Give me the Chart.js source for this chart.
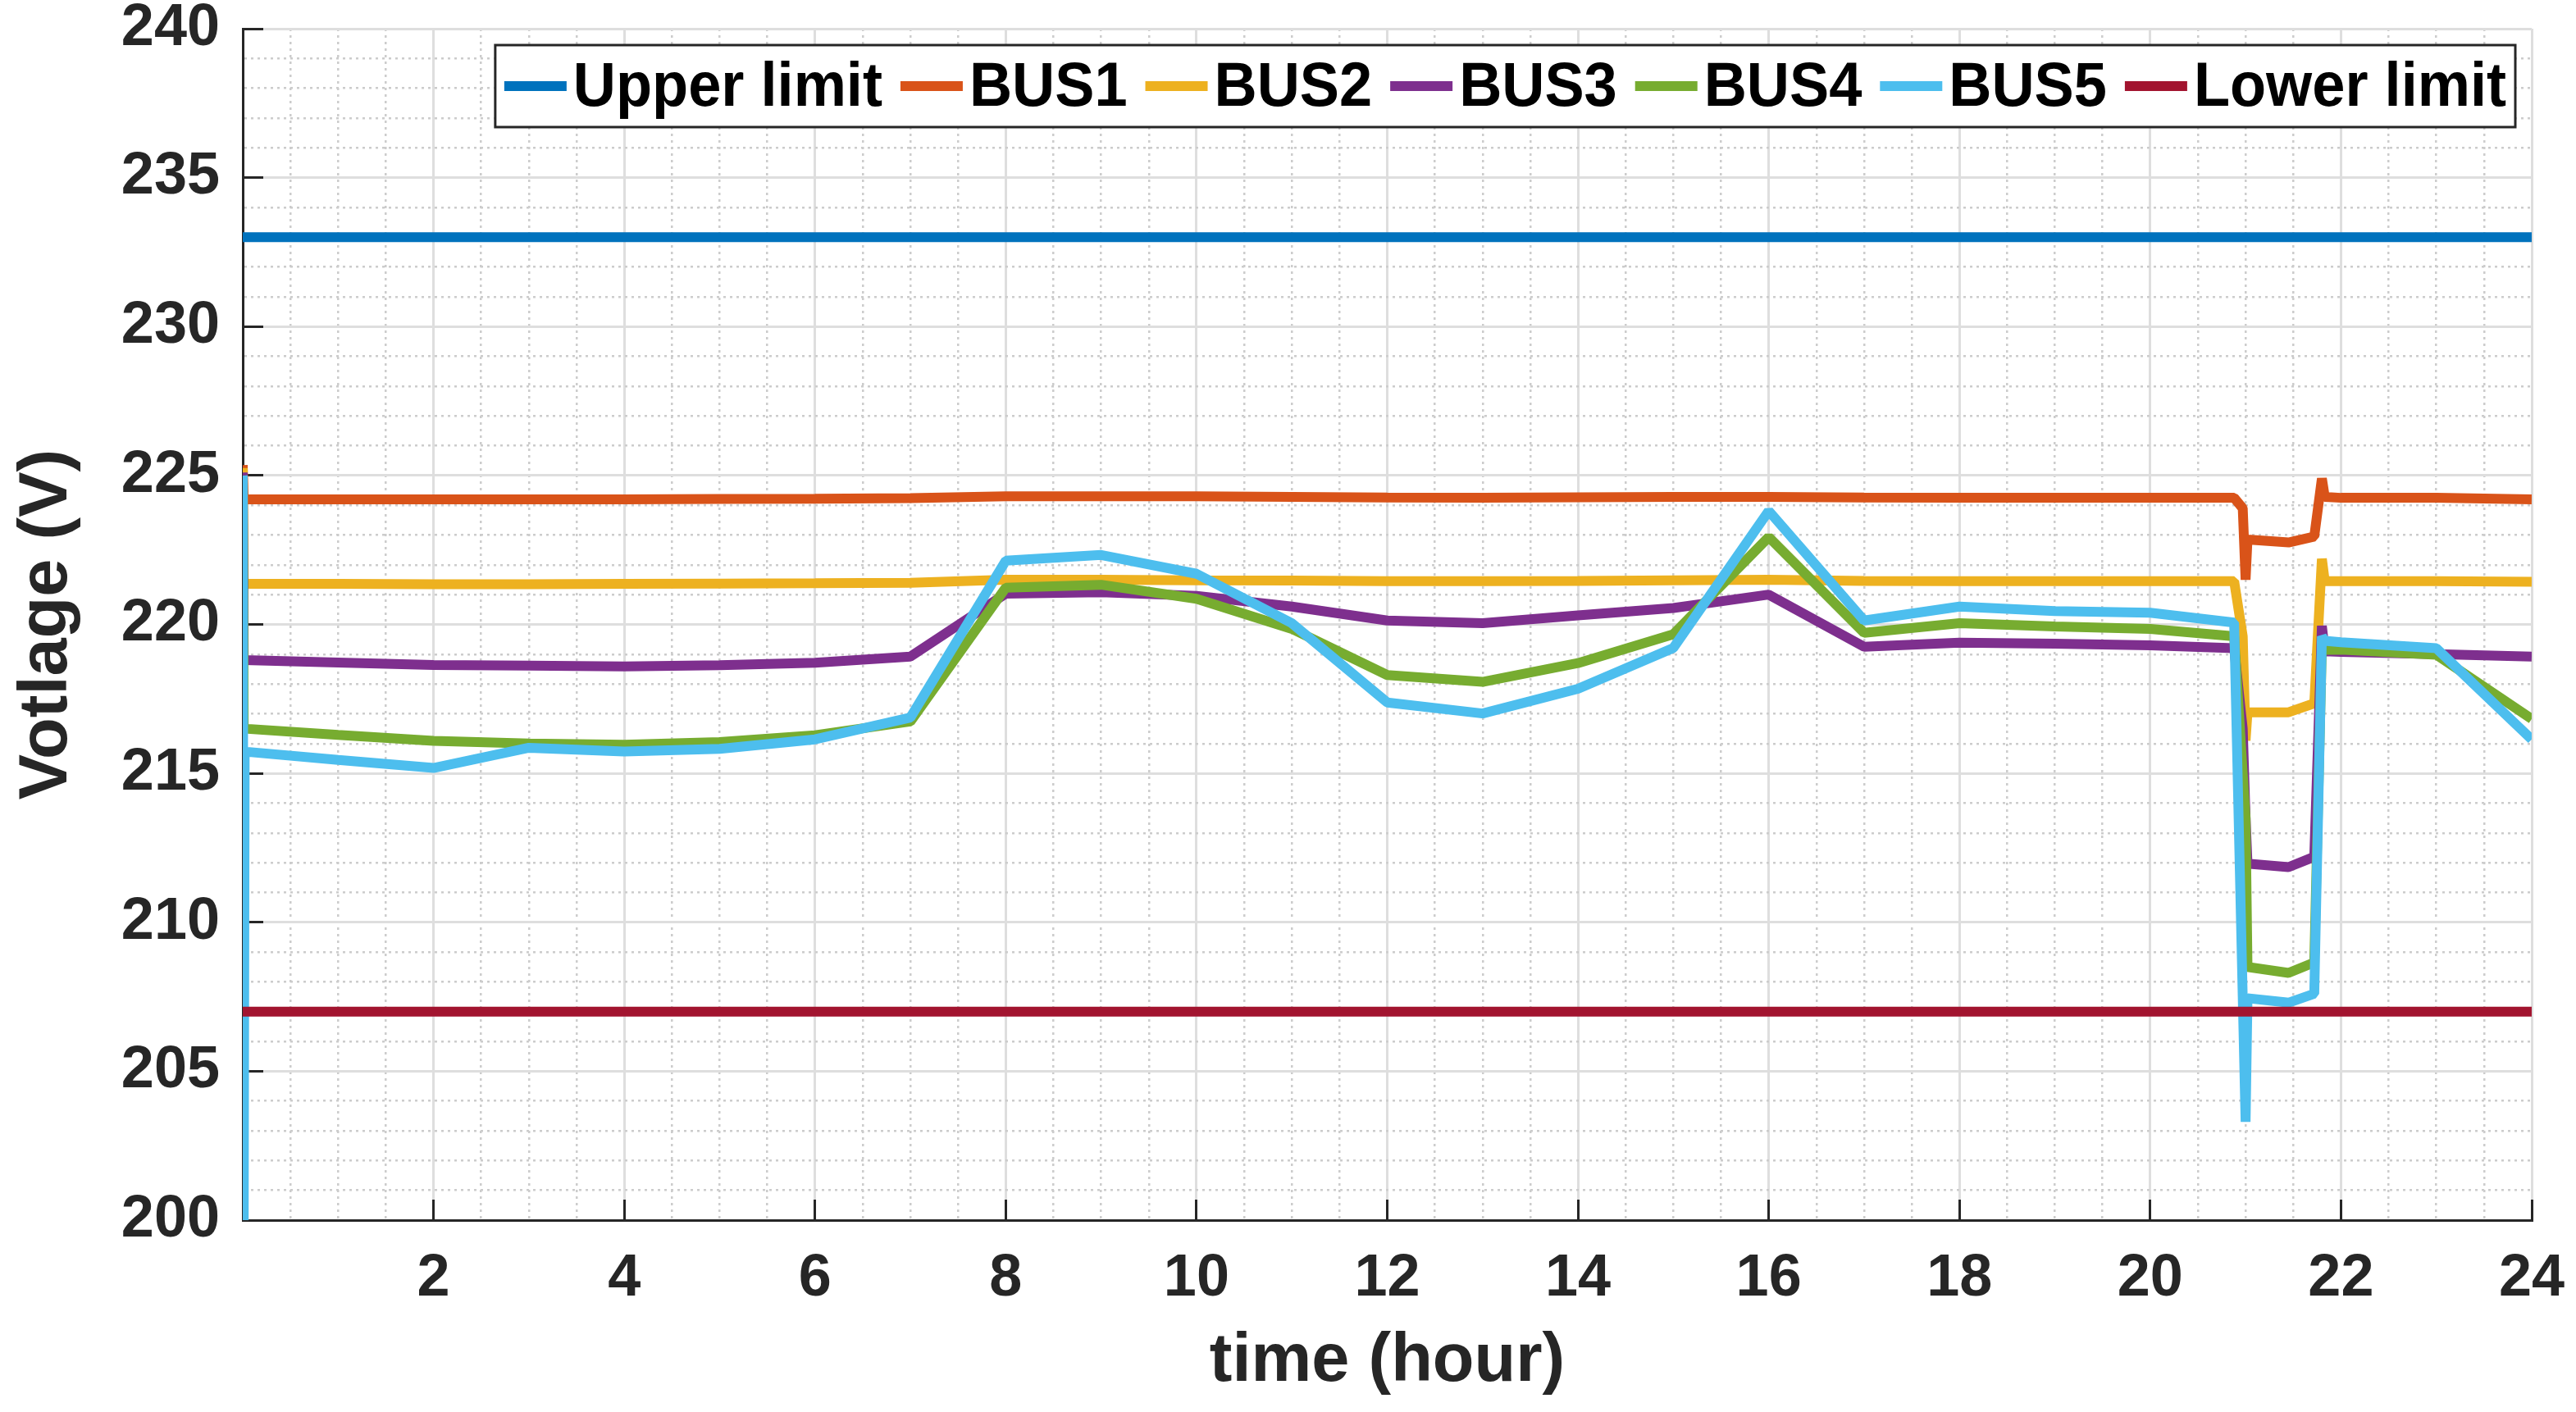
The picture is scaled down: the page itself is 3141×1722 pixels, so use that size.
<!DOCTYPE html>
<html lang="en">
<head>
<meta charset="UTF-8">
<title>Bus voltages over 24 hours</title>
<style>
  html, body { margin: 0; padding: 0; background: #fff; }
  #wrap { width: 3141px; height: 1722px; }
</style>
</head>
<body>
<div id="wrap"><canvas id="voltChart" width="3141" height="1722"></canvas></div>

<script src="https://cdn.jsdelivr.net/npm/chart.js@4/dist/chart.umd.min.js"></script>
<script>
// time axis (hours) shared by the five bus curves
const hours = [0, 0.01, 0.02, 1, 2, 3, 4, 5, 6, 7, 8, 9, 10, 11, 12, 13, 14, 15, 16, 17, 18, 19, 20,
               20.88, 20.97, 21.0, 21.02, 21.45, 21.72, 21.8, 21.83, 22, 23, 24];

// bus voltages (V)
const bus1 = [225.35, 224.2, 224.2, 224.2, 224.2, 224.2, 224.2, 224.21, 224.22, 224.24,
              224.3, 224.3, 224.3, 224.28, 224.26, 224.25, 224.27, 224.28, 224.28, 224.26, 224.25, 224.25, 224.25,
              224.25, 223.9, 221.5, 222.85, 222.75, 222.95, 224.9, 224.28, 224.25, 224.25, 224.2];
const bus2 = [225.25, 221.36, 221.36, 221.36, 221.35, 221.35, 221.36, 221.37, 221.38, 221.4,
              221.5, 221.5, 221.48, 221.47, 221.45, 221.45, 221.46, 221.48, 221.5, 221.46, 221.45, 221.45, 221.45,
              221.45, 219.6, 216.1, 217.05, 217.05, 217.35, 222.2, 221.45, 221.45, 221.45, 221.43];
const bus3 = [225.1, 218.8, 218.8, 218.72, 218.64, 218.62, 218.59, 218.63, 218.71, 218.92,
              221.03, 221.08, 220.96, 220.6, 220.13, 220.04, 220.3, 220.55, 221.0, 219.25, 219.39, 219.35, 219.3,
              219.2, 216.5, 213.5, 211.97, 211.85, 212.2, 219.95, 219.1, 219.08, 219.0, 218.92];
const bus4 = [225.0, 216.5, 216.5, 216.29, 216.09, 216.0, 215.96, 216.05, 216.28, 216.74,
              221.23, 221.33, 220.86, 219.85, 218.3, 218.07, 218.7, 219.67, 222.93, 219.72, 220.04, 219.93, 219.85,
              219.6, 215.0, 213.5, 208.5, 208.3, 208.65, 219.3, 219.15, 219.15, 218.98, 216.83];
const bus5 = [225.0, 200.0, 215.73, 215.45, 215.18, 215.86, 215.73, 215.82, 216.14, 216.87,
              222.14, 222.33, 221.7, 220.04, 217.38, 217.01, 217.84, 219.21, 223.81, 220.13, 220.6, 220.45, 220.39,
              220.06, 207.5, 203.3, 207.45, 207.3, 207.6, 219.6, 219.45, 219.4, 219.2, 216.14];

// voltage limits
const limitHours = [0, 24];
const upperLimit = [233, 233];
const lowerLimit = [207, 207];

const seriesNames = ["Upper limit", "BUS1", "BUS2", "BUS3", "BUS4", "BUS5", "Lower limit"];
const seriesColors = ["#0072BD", "#D95319", "#EDB120", "#7E2F8E", "#77AC30", "#4DBEEE", "#A2142F"];

// tick labels shown on the axes
const xTickLabels = [2, 4, 6, 8, 10, 12, 14, 16, 18, 20, 22, 24];
const yTickLabels = [200, 205, 210, 215, 220, 225, 230, 235, 240];

const FONT = '"Liberation Sans", Arial, Helvetica, sans-serif';
const INK = "#262626";

function pts(xs, ys) {
    return xs.map((x, i) => ({ x: x, y: ys[i] }));
}

const seriesData = [
    pts(limitHours, upperLimit),
    pts(hours, bus1),
    pts(hours, bus2),
    pts(hours, bus3),
    pts(hours, bus4),
    pts(hours, bus5),
    pts(limitHours, lowerLimit)
];

// later series sit on top, like the original plot
const datasets = seriesNames.map((name, i) => ({
    label: name,
    data: seriesData[i],
    borderColor: seriesColors[i],
    backgroundColor: seriesColors[i],
    borderWidth: 12,
    borderJoinStyle: "bevel",
    pointRadius: 0,
    tension: 0,
    order: seriesNames.length - i
}));

// major / minor grid helpers
function isMajor(c, step) {
    if (!c.tick) return true;
    return Math.abs(c.tick.value % step) < 1e-9;
}

function axisOpts(step, labels, title, titlePad, fixSize) {
    return {
        type: "linear",
        ticks: {
            autoSkip: false,
            maxRotation: 0,
            color: INK,
            font: { family: FONT, size: 72, weight: "bold" },
            callback: (v) => labels.includes(v) ? v : ""
        },
        grid: {
            color: (c) => isMajor(c, step) ? "#dedede" : "#cccccc",
            lineWidth: (c) => isMajor(c, step) ? 3 : 2.5,
            tickLength: -25,
            tickWidth: 3,
            tickColor: (c) => isMajor(c, step) ? INK : "rgba(0,0,0,0)"
        },
        border: {
            color: INK,
            width: 3,
            dash: (c) => isMajor(c, step) ? [] : [3, 5]
        },
        title: {
            display: true,
            text: title,
            color: INK,
            font: { family: FONT, size: 83, weight: "bold" },
            padding: titlePad
        },
        afterFit: fixSize
    };
}

const xAxis = axisOpts(2, xTickLabels, "time (hour)", { top: 0, bottom: 11 }, (s) => {
    s.height = 234;
    s.paddingLeft = 0;
    s.paddingRight = 0;
});
xAxis.min = 0;
xAxis.max = 24;
xAxis.ticks.stepSize = 0.5;
xAxis.ticks.padding = 54;

const yAxis = axisOpts(5, yTickLabels, "Votlage (V)", { top: 8, bottom: 0 }, (s) => {
    s.width = 296;
    s.paddingTop = 0;
    s.paddingBottom = 0;
});
yAxis.min = 200;
yAxis.max = 240;
yAxis.ticks.stepSize = 1;
yAxis.ticks.padding = 53;

// legend box inside the plot, top right, one row
const boxLegend = {
    id: "boxLegend",
    afterDraw(chart) {
        const ctx = chart.ctx;
        const area = chart.chartArea;
        const sets = chart.data.datasets;
        const squeeze = 0.95; // legend text is a bit narrow in the original
        ctx.save();
        ctx.font = "bold 76px " + FONT;
        const widths = sets.map((d) => ctx.measureText(d.label).width * squeeze);
        const lineLen = 76, gapIn = 8, gapOut = 22, padX = 11;
        let total = padX * 2 + sets.length * (lineLen + gapIn) + (sets.length - 1) * gapOut;
        widths.forEach((w) => { total += w; });
        const right = area.right - 20;
        const left = right - total;
        const top = area.top + 20;
        const h = 100;
        ctx.fillStyle = "#ffffff";
        ctx.fillRect(left, top, total, h);
        ctx.lineWidth = 3;
        ctx.strokeStyle = INK;
        ctx.strokeRect(left, top, total, h);

        const cy = top + h / 2;
        let x = left + padX;
        sets.forEach((d, i) => {
            ctx.strokeStyle = d.borderColor;
            ctx.lineWidth = 12;
            ctx.beginPath();
            ctx.moveTo(x, cy);
            ctx.lineTo(x + lineLen, cy);
            ctx.stroke();
            x += lineLen + gapIn;
            ctx.save();
            ctx.translate(x, cy + 3);
            ctx.scale(squeeze, 1);
            ctx.fillStyle = "#000000";
            ctx.textBaseline = "middle";
            ctx.textAlign = "left";
            ctx.fillText(d.label, 0, 0);
            ctx.restore();
            x += widths[i] + gapOut;
        });
        ctx.restore();
    }
};

const ctx = document.getElementById("voltChart").getContext("2d");
const voltChart = new Chart(ctx, {
    type: "line",
    data: { datasets: datasets },
    options: {
        responsive: false,
        animation: false,
        devicePixelRatio: 1,
        layout: { padding: { left: 0, top: 35, right: 54, bottom: 0 } },
        scales: { x: xAxis, y: yAxis },
        plugins: {
            legend: { display: false },
            tooltip: { enabled: false }
        }
    },
    plugins: [boxLegend]
});
</script>
</body>
</html>
